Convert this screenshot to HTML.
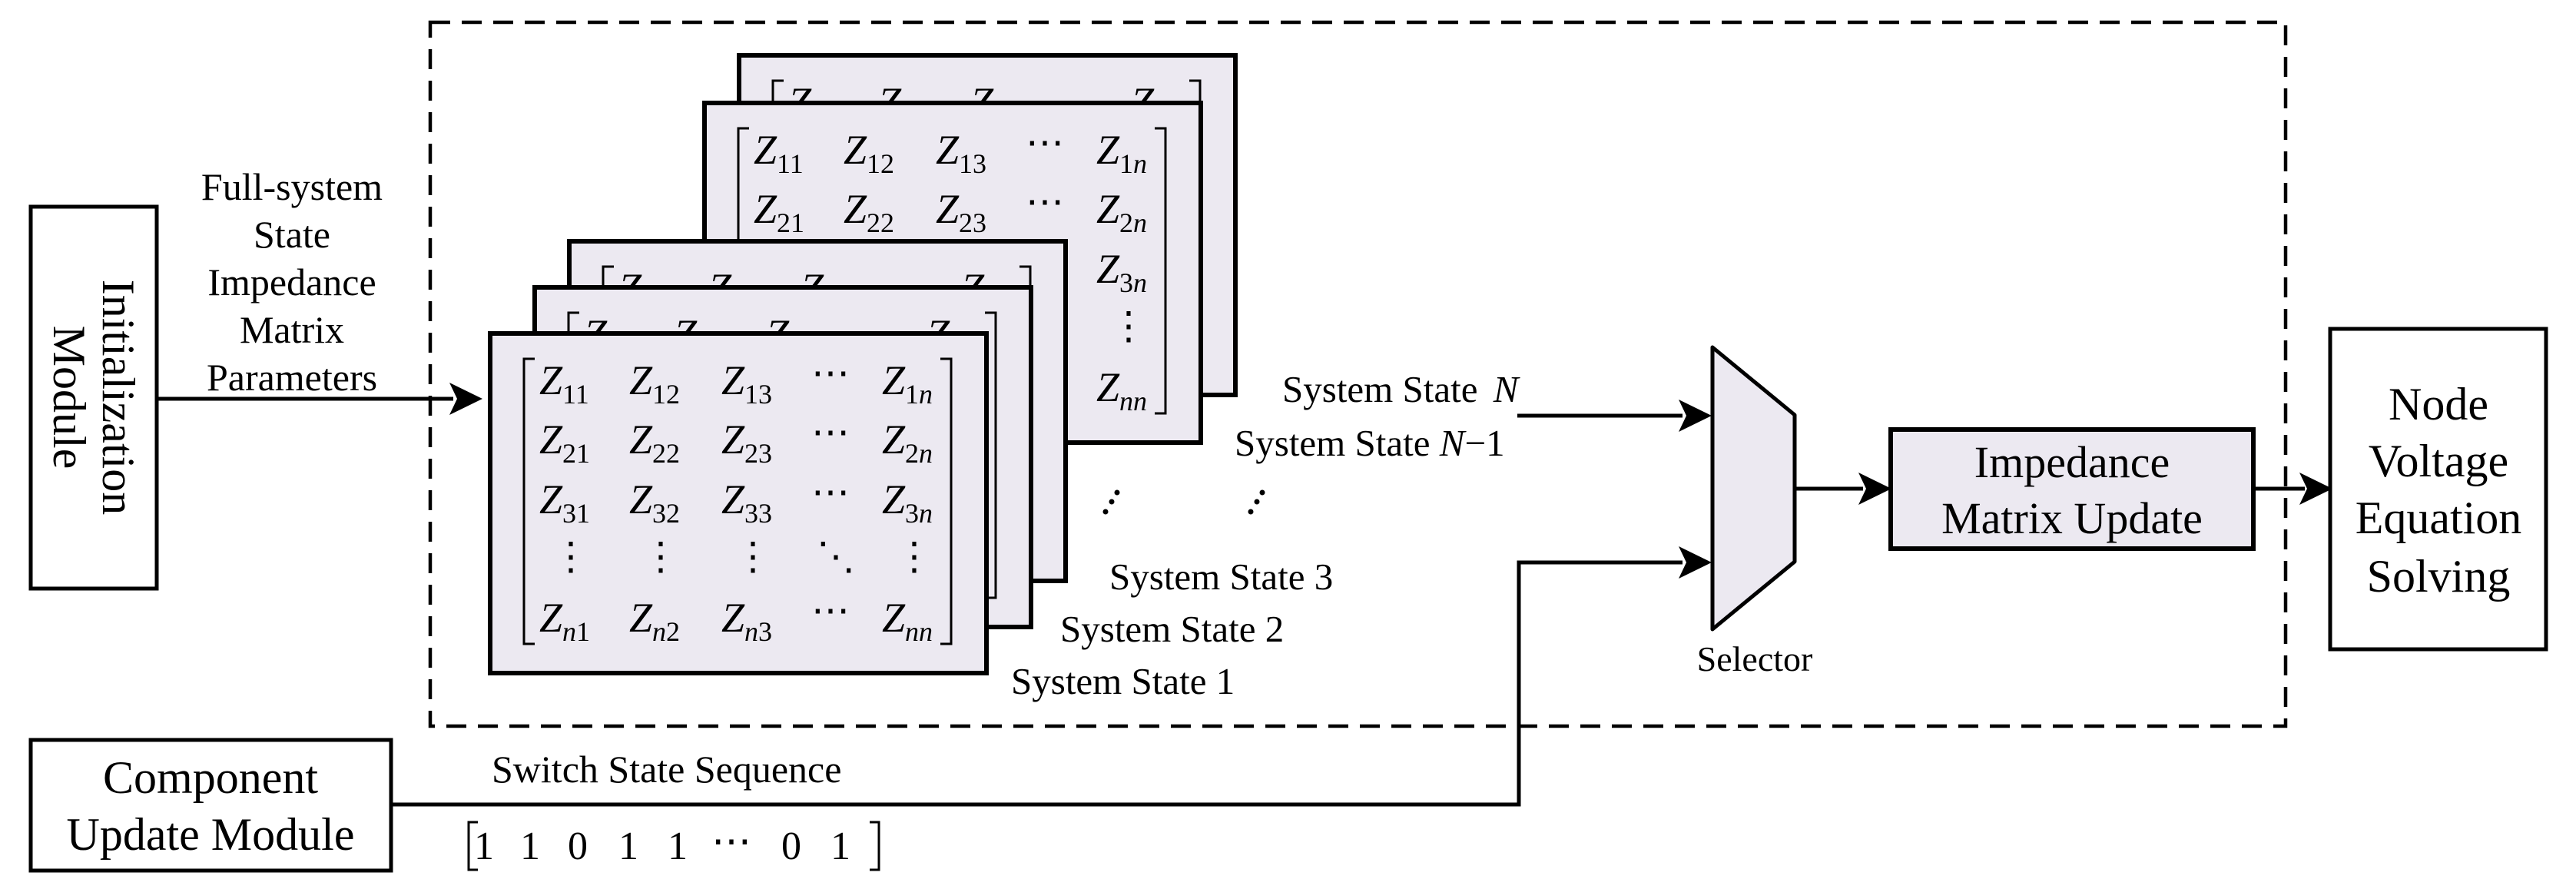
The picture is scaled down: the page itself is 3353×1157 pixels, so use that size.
<!DOCTYPE html>
<html><head><meta charset="utf-8"><style>
html,body{margin:0;padding:0;background:#fff;}
svg{display:block;}
text{font-family:"Liberation Serif","Times New Roman",serif;fill:#000;}
.z{font-style:italic;font-size:54px;}
.s{font-style:normal;font-size:36px;}
.i{font-style:italic;}
.d{font-size:50px;}
</style></head><body>
<svg width="3353" height="1157" viewBox="0 0 3353 1157" xmlns="http://www.w3.org/2000/svg">
<rect x="560" y="29" width="2415" height="916" fill="none" stroke="#000" stroke-width="4.5" stroke-dasharray="26,15"/>

<rect x="40" y="269" width="164" height="497" fill="#fff" stroke="#000" stroke-width="5"/>
<text transform="translate(122,517) rotate(90)" font-size="60" text-anchor="middle"><tspan x="0" y="-12">Initialization</tspan><tspan x="0" y="52">Module</tspan></text>

<g font-size="50" text-anchor="middle">
<text x="380" y="260">Full-system</text>
<text x="380" y="322">State</text>
<text x="380" y="384">Impedance</text>
<text x="380" y="446">Matrix</text>
<text x="380" y="508">Parameters</text>
</g>
<line x1="204" y1="519" x2="590" y2="519" stroke="#000" stroke-width="5"/>
<polygon points="628,519 585,498 595,519 585,540" fill="#000"/>

<g>
<g transform="translate(962,72)">
<rect x="0" y="0" width="646" height="442" fill="#ece9f1" stroke="#000" stroke-width="6"/>
<path d="M58,33 h-14 v371 h14 M586,33 h14 v371 h-14" fill="none" stroke="#000" stroke-width="3"/>
<text class="z" x="64" y="79">Z<tspan class="s" dy="12">11</tspan></text>
<text class="z" x="181" y="79">Z<tspan class="s" dy="12">12</tspan></text>
<text class="z" x="301" y="79">Z<tspan class="s" dy="12">13</tspan></text>
<text class="z" x="510" y="79">Z<tspan class="s" dy="12">1<tspan class="i">n</tspan></tspan></text>
</g>
<g transform="translate(917,134)">
<rect x="0" y="0" width="646" height="442" fill="#ece9f1" stroke="#000" stroke-width="6"/>
<path d="M58,33 h-14 v371 h14 M586,33 h14 v371 h-14" fill="none" stroke="#000" stroke-width="3"/>
<text class="z" x="64" y="79">Z<tspan class="s" dy="12">11</tspan></text>
<text class="z" x="181" y="79">Z<tspan class="s" dy="12">12</tspan></text>
<text class="z" x="301" y="79">Z<tspan class="s" dy="12">13</tspan></text>
<text class="d" x="418" y="68">⋯</text>
<text class="z" x="510" y="79">Z<tspan class="s" dy="12">1<tspan class="i">n</tspan></tspan></text>
<text class="z" x="64" y="156">Z<tspan class="s" dy="12">21</tspan></text>
<text class="z" x="181" y="156">Z<tspan class="s" dy="12">22</tspan></text>
<text class="z" x="301" y="156">Z<tspan class="s" dy="12">23</tspan></text>
<text class="d" x="418" y="145">⋯</text>
<text class="z" x="510" y="156">Z<tspan class="s" dy="12">2<tspan class="i">n</tspan></tspan></text>
<text class="z" x="510" y="234">Z<tspan class="s" dy="12">3<tspan class="i">n</tspan></tspan></text>
<text class="d" x="527" y="307">⋮</text>
<text class="z" x="510" y="388">Z<tspan class="s" dy="12"><tspan class="i">nn</tspan></tspan></text>
</g>
<g transform="translate(741,314)">
<rect x="0" y="0" width="646" height="442" fill="#ece9f1" stroke="#000" stroke-width="6"/>
<path d="M58,33 h-14 v371 h14 M586,33 h14 v371 h-14" fill="none" stroke="#000" stroke-width="3"/>
<text class="z" x="64" y="79">Z<tspan class="s" dy="12">11</tspan></text>
<text class="z" x="181" y="79">Z<tspan class="s" dy="12">12</tspan></text>
<text class="z" x="301" y="79">Z<tspan class="s" dy="12">13</tspan></text>
<text class="z" x="510" y="79">Z<tspan class="s" dy="12">1<tspan class="i">n</tspan></tspan></text>
</g>
<g transform="translate(696,374)">
<rect x="0" y="0" width="646" height="442" fill="#ece9f1" stroke="#000" stroke-width="6"/>
<path d="M58,33 h-14 v371 h14 M586,33 h14 v371 h-14" fill="none" stroke="#000" stroke-width="3"/>
<text class="z" x="64" y="79">Z<tspan class="s" dy="12">11</tspan></text>
<text class="z" x="181" y="79">Z<tspan class="s" dy="12">12</tspan></text>
<text class="z" x="301" y="79">Z<tspan class="s" dy="12">13</tspan></text>
<text class="z" x="510" y="79">Z<tspan class="s" dy="12">1<tspan class="i">n</tspan></tspan></text>
</g>
<g transform="translate(638,434)">
<rect x="0" y="0" width="646" height="442" fill="#ece9f1" stroke="#000" stroke-width="6"/>
<path d="M58,33 h-14 v371 h14 M586,33 h14 v371 h-14" fill="none" stroke="#000" stroke-width="3"/>
<text class="z" x="64" y="79">Z<tspan class="s" dy="12">11</tspan></text>
<text class="z" x="181" y="79">Z<tspan class="s" dy="12">12</tspan></text>
<text class="z" x="301" y="79">Z<tspan class="s" dy="12">13</tspan></text>
<text class="d" x="418" y="68">⋯</text>
<text class="z" x="510" y="79">Z<tspan class="s" dy="12">1<tspan class="i">n</tspan></tspan></text>
<text class="z" x="64" y="156">Z<tspan class="s" dy="12">21</tspan></text>
<text class="z" x="181" y="156">Z<tspan class="s" dy="12">22</tspan></text>
<text class="z" x="301" y="156">Z<tspan class="s" dy="12">23</tspan></text>
<text class="d" x="418" y="145">⋯</text>
<text class="z" x="510" y="156">Z<tspan class="s" dy="12">2<tspan class="i">n</tspan></tspan></text>
<text class="z" x="64" y="234">Z<tspan class="s" dy="12">31</tspan></text>
<text class="z" x="181" y="234">Z<tspan class="s" dy="12">32</tspan></text>
<text class="z" x="301" y="234">Z<tspan class="s" dy="12">33</tspan></text>
<text class="d" x="418" y="223">⋯</text>
<text class="z" x="510" y="234">Z<tspan class="s" dy="12">3<tspan class="i">n</tspan></tspan></text>
<text class="d" x="80" y="307">⋮</text>
<text class="d" x="197" y="307">⋮</text>
<text class="d" x="317" y="307">⋮</text>
<text class="d" x="425" y="307">⋱</text>
<text class="d" x="527" y="307">⋮</text>
<text class="z" x="64" y="388">Z<tspan class="s" dy="12"><tspan class="i">n</tspan>1</tspan></text>
<text class="z" x="181" y="388">Z<tspan class="s" dy="12"><tspan class="i">n</tspan>2</tspan></text>
<text class="z" x="301" y="388">Z<tspan class="s" dy="12"><tspan class="i">n</tspan>3</tspan></text>
<text class="d" x="418" y="377">⋯</text>
<text class="z" x="510" y="388">Z<tspan class="s" dy="12"><tspan class="i">nn</tspan></tspan></text>
</g>
</g>

<g fill="#000">
<circle cx="1454" cy="641" r="3.5"/><circle cx="1447" cy="653" r="3.5"/><circle cx="1439" cy="666" r="3.5"/>
<circle cx="1643" cy="641" r="3.5"/><circle cx="1636" cy="653" r="3.5"/><circle cx="1628" cy="666" r="3.5"/>
</g>

<g font-size="49">
<text x="1669" y="523">System State <tspan class="i" dx="8">N</tspan></text>
<text x="1607" y="593">System State <tspan class="i">N</tspan>−1</text>
<text x="1444" y="767">System State 3</text>
<text x="1380" y="835">System State 2</text>
<text x="1316" y="903">System State 1</text>
</g>

<line x1="1975" y1="541" x2="2190" y2="541" stroke="#000" stroke-width="5"/>
<polygon points="2228,541 2185,520 2195,541 2185,562" fill="#000"/>
<polyline points="509,1047 1977,1047 1977,732 2190,732" fill="none" stroke="#000" stroke-width="5"/>
<polygon points="2228,732 2185,711 2195,732 2185,753" fill="#000"/>

<polygon points="2229,452 2336,540 2336,731 2229,819" fill="#ece9f1" stroke="#000" stroke-width="5" stroke-linejoin="round"/>
<text x="2284" y="873" font-size="46" text-anchor="middle">Selector</text>

<line x1="2336" y1="636" x2="2425" y2="636" stroke="#000" stroke-width="5"/>
<polygon points="2462,636 2419,615 2429,636 2419,657" fill="#000"/>

<rect x="2461" y="559" width="472" height="155" fill="#ece9f1" stroke="#000" stroke-width="6"/>
<g font-size="58" text-anchor="middle">
<text x="2697" y="621">Impedance</text>
<text x="2697" y="694">Matrix Update</text>
</g>
<line x1="2933" y1="636" x2="3000" y2="636" stroke="#000" stroke-width="5"/>
<polygon points="3036,636 2993,615 3003,636 2993,657" fill="#000"/>

<rect x="3033" y="428" width="281" height="417" fill="#fff" stroke="#000" stroke-width="5"/>
<g font-size="60" text-anchor="middle">
<text x="3174" y="546">Node</text>
<text x="3174" y="620">Voltage</text>
<text x="3174" y="694">Equation</text>
<text x="3174" y="770">Solving</text>
</g>

<rect x="40" y="963" width="469" height="170" fill="#fff" stroke="#000" stroke-width="5"/>
<g font-size="60" text-anchor="middle">
<text x="274" y="1032">Component</text>
<text x="274" y="1106">Update Module</text>
</g>
<text x="640" y="1018" font-size="50">Switch State Sequence</text>
<path d="M622,1070 h-12 v62 h12 M1132,1070 h12 v62 h-12" fill="none" stroke="#000" stroke-width="3"/>
<g font-size="52" text-anchor="middle">
<text x="630" y="1118">1</text>
<text x="690" y="1118">1</text>
<text x="752" y="1118">0</text>
<text x="818" y="1118">1</text>
<text x="882" y="1118">1</text>
<text x="952" y="1112">⋯</text>
<text x="1030" y="1118">0</text>
<text x="1094" y="1118">1</text>
</g>
</svg>
</body></html>
